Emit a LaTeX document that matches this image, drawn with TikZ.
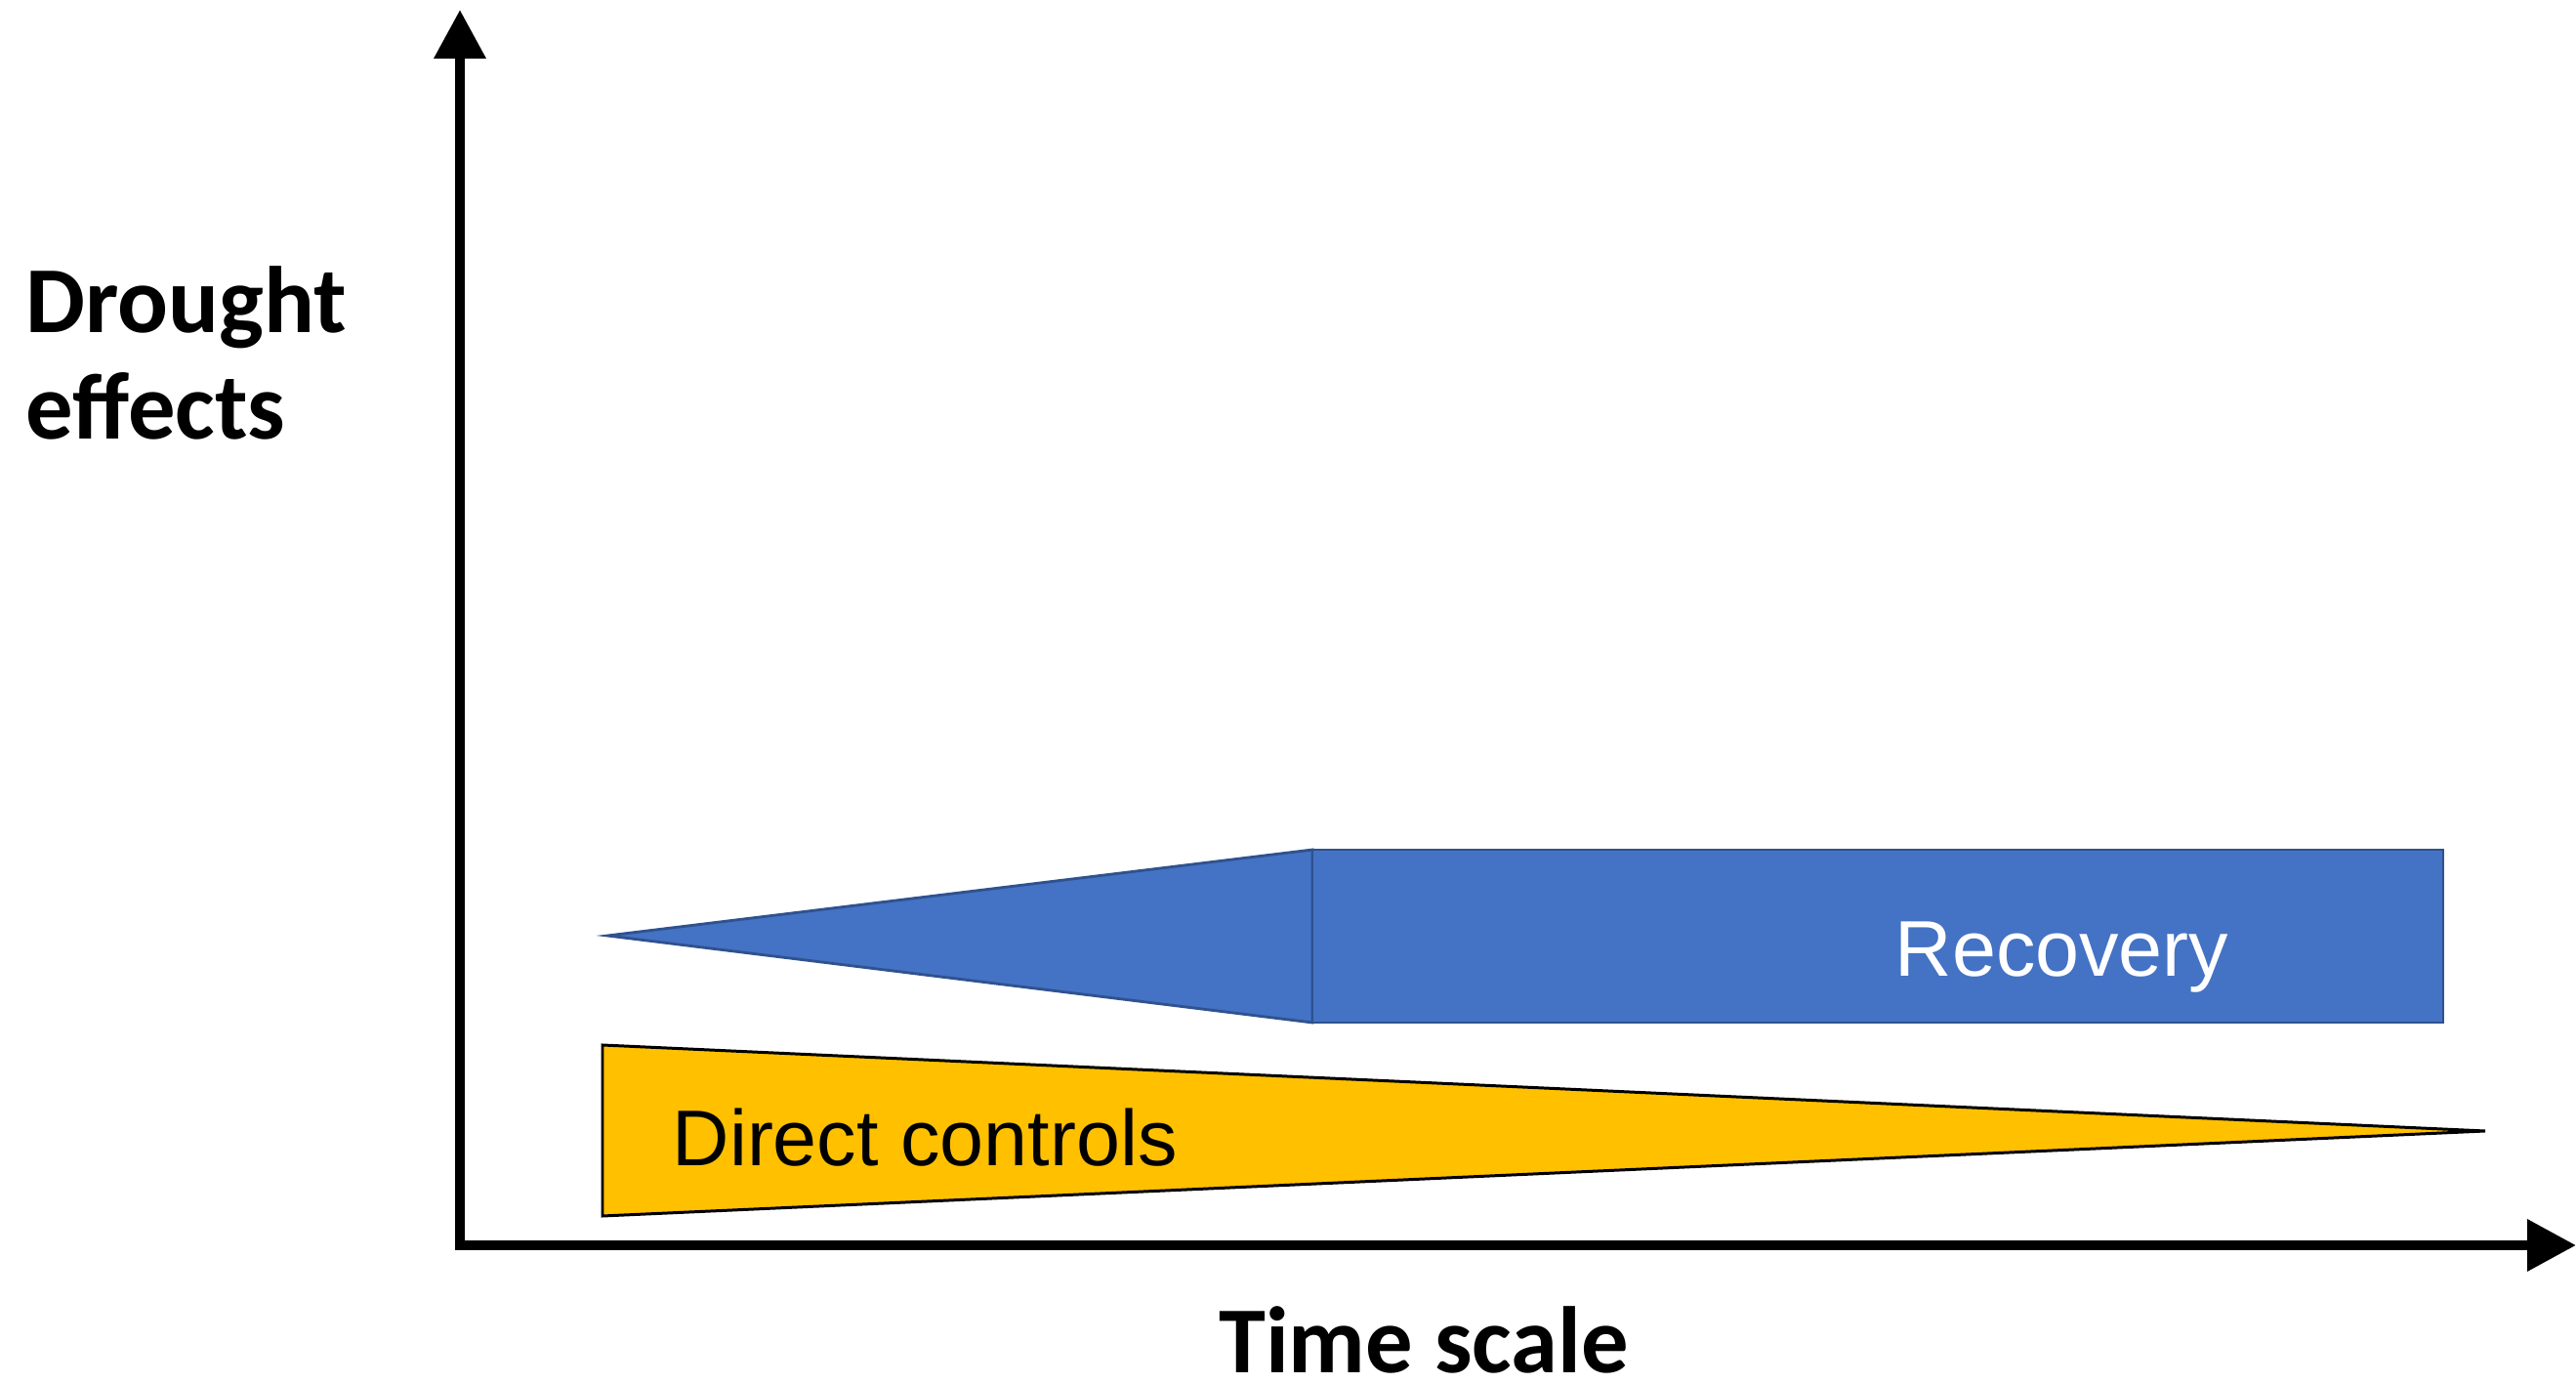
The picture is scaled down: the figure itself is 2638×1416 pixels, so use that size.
\documentclass[tikz,border=0pt]{standalone}
\usepackage{fontspec}
\setmainfont{Liberation Sans}
\newfontfamily\lblfont{Carlito}
\usetikzlibrary{arrows.meta}
\definecolor{blueFill}{HTML}{4472C4}
\definecolor{blueLine}{HTML}{2F528F}
\definecolor{yellowFill}{HTML}{FFC000}
\tikzset{
  axistip/.style={Triangle[length=14.2pt,width=14.5pt]},
  bluepart/.style={fill=blueFill, draw=blueLine, line width=0.8pt},
  yellowpart/.style={fill=yellowFill, draw=black, line width=0.85pt},
  axislabel/.style={font=\lblfont\bfseries\fontsize{27.5pt}{31pt}\selectfont, inner sep=0pt},
  barlabel/.style={font=\fontsize{23pt}{26pt}\selectfont, inner sep=0pt, anchor=base west}
}
\begin{document}
\begin{tikzpicture}[x=0.01cm, y=-0.01cm]
\useasboundingbox (0,0) rectangle (2638,1416);
% axes
\coordinate (origin) at (471,1275);
\coordinate (ytip) at (471,10);
\coordinate (xtip) at (2638,1275);
\draw[line width=2.85pt, {Triangle[length=14.2pt,width=14.5pt]}-{Triangle[length=14.2pt,width=14.5pt]}] (ytip) -- (origin) -- (xtip);
% blue recovery shape
\coordinate (bt) at (622,958);
\coordinate (btop) at (1344,870);
\coordinate (bbot) at (1344,1047);
\draw[bluepart] (bt) -- (btop) -- (bbot) -- cycle;
\draw[bluepart] (btop) rectangle (2502,1047);
% yellow direct controls
\draw[yellowpart] (617,1070) -- (2545,1158) -- (617,1245) -- cycle;
% labels
\node[barlabel, text=white] (rec) at (1940,1000) {Recovery};
\node[barlabel, text=black] (dc) at (688,1194) {Direct controls};
\node[axislabel, anchor=base west, align=left] (de) at (26,450) {Drought\\effects};
\node[axislabel, anchor=base] (ts) at (1458,1405) {Time scale};
\end{tikzpicture}
\end{document}
